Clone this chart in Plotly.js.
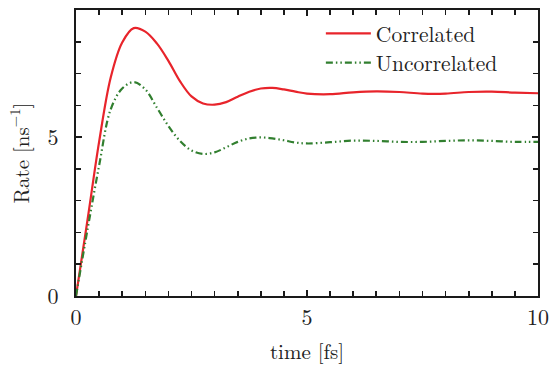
<!DOCTYPE html>
<html><head><meta charset="utf-8">
<script src="https://cdn.plot.ly/plotly-3.0.1.min.js"></script>
<style>html,body{margin:0;padding:0;background:#fff}#chart{width:553px;height:371px}</style>
</head><body><div id="chart"></div>
<script>
const timeFs = [0,0.25,0.5,0.75,1.0,1.25,1.5,1.75,2.0,2.25,2.5,2.75,3.0,3.25,3.5,3.75,4.0,4.25,4.5,4.75,5.0,5.5,6.0,6.5,7.0,7.5,8.0,8.5,9.0,9.5,10.0];
const correlated = [0,2.4,4.85,6.87,7.98,8.43,8.32,7.95,7.4,6.76,6.28,6.06,6.02,6.1,6.27,6.43,6.53,6.55,6.5,6.43,6.37,6.35,6.41,6.44,6.42,6.37,6.37,6.42,6.43,6.4,6.38];
const uncorrelated = [0,2.1,4.1,5.87,6.53,6.73,6.5,5.93,5.35,4.88,4.58,4.47,4.52,4.68,4.85,4.96,4.99,4.96,4.9,4.83,4.8,4.84,4.89,4.88,4.85,4.85,4.88,4.9,4.88,4.85,4.85];
const seriesNames = ['Correlated','Uncorrelated'];
const xTickVals = [0,5,10];
const yTickVals = [0,5];

const font = '"Latin Modern Roman", "Liberation Serif", "DejaVu Serif", serif';
const ink = '#222';
const traces = [
  {x: timeFs, y: correlated, name: seriesNames[0], mode: 'lines', legend: 'legend',
   line: {color: '#e8242b', width: 2.2, shape: 'spline', smoothing: 1}},
  {x: timeFs, y: uncorrelated, name: seriesNames[1], mode: 'lines', legend: 'legend2',
   line: {color: '#317f2f', width: 2.2, shape: 'spline', smoothing: 1, dash: '7px,3px,1.5px,3px,1.5px,3px'}}
];
const axisCommon = {
  showgrid: false, zeroline: false, showline: true, linecolor: '#1a1a1a', linewidth: 2,
  mirror: 'allticks', ticks: 'inside', ticklen: 6, tickwidth: 1.6, tickcolor: '#1a1a1a',
  tickfont: {family: font, size: 22, color: ink}
};
const legendCommon = {xanchor: 'left', yanchor: 'middle', bgcolor: 'rgba(0,0,0,0)',
  itemwidth: 45, font: {family: font, size: 21.5, color: ink}};
const layout = {
  width: 553, height: 371,
  margin: {l: 76, r: 15, t: 10, b: 75},
  paper_bgcolor: '#fff', plot_bgcolor: '#fff',
  font: {family: font, color: ink},
  showlegend: true,
  legend: Object.assign({x: 0.530, y: 0.918}, legendCommon),
  legend2: Object.assign({x: 0.530, y: 0.816}, legendCommon),
  xaxis: Object.assign({}, axisCommon, {
    range: [0, 10], tickmode: 'array', tickvals: xTickVals, ticktext: xTickVals.map(String),
    minor: {dtick: 0.5, ticks: 'inside', ticklen: 5, tickwidth: 1.6, tickcolor: '#1a1a1a', showgrid: false},
    ticklabelstandoff: 1,
    title: {text: 'time [fs]', font: {family: font, size: 21, color: ink}, standoff: 14}
  }),
  yaxis: Object.assign({}, axisCommon, {
    range: [0, 9], tickmode: 'array', tickvals: yTickVals, ticktext: yTickVals.map(String),
    minor: {dtick: 1, ticks: 'inside', ticklen: 5, tickwidth: 1.6, tickcolor: '#1a1a1a', showgrid: false},
    ticklabelstandoff: 11,
    title: {text: 'Rate [ns<sup>−1</sup>]', font: {family: font, size: 21, color: ink}, standoff: 12}
  })
};
Plotly.newPlot('chart', traces, layout, {displayModeBar: false, staticPlot: true});
</script></body></html>
